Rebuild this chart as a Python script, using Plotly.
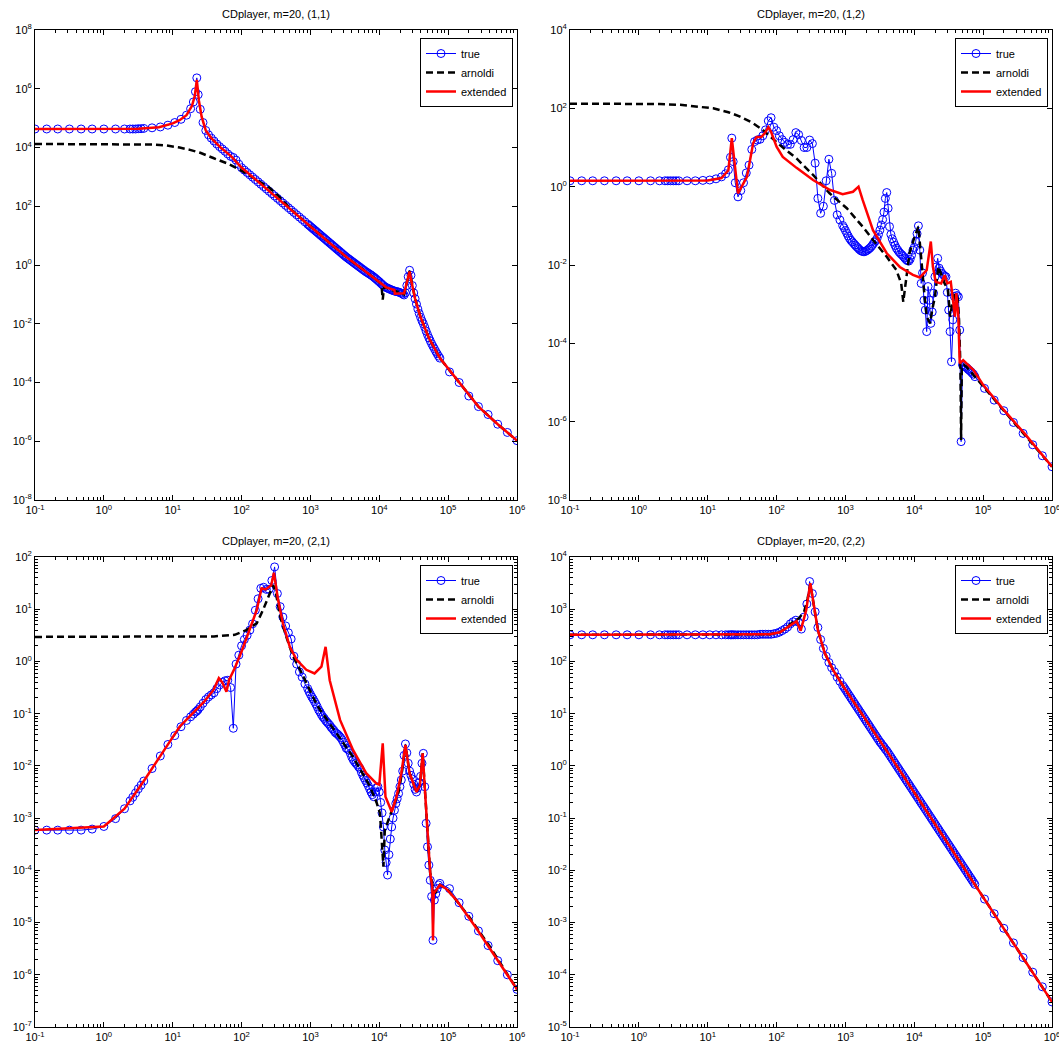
import plotly.graph_objects as go

# ---------------- data (log10 of frequency and of magnitude) -------------
freq_log10 = [
    -1.0, -0.83, -0.67, -0.5, -0.33, -0.17, 0.0, 0.17, 0.3,
    0.38, 0.42, 0.46, 0.5, 0.54, 0.58,
    0.7, 0.82, 0.93, 1.03, 1.12, 1.2, 1.26, 1.3, 1.33, 1.35, 1.37, 1.4, 1.44, 1.48,
    1.52, 1.56, 1.60, 1.64, 1.68, 1.72, 1.76, 1.80, 1.84, 1.88,
    1.92, 1.96, 2.00, 2.04, 2.08, 2.12, 2.16, 2.20, 2.24, 2.28,
    2.32, 2.36, 2.40, 2.44, 2.48, 2.52, 2.56, 2.60, 2.64, 2.68,
    2.72, 2.76, 2.80, 2.84, 2.88, 2.92, 2.96,
    2.98, 3.00, 3.02, 3.04, 3.06, 3.08, 3.10, 3.12, 3.14, 3.16,
    3.18, 3.20, 3.22, 3.24, 3.26, 3.28, 3.30, 3.32, 3.34, 3.36,
    3.38, 3.40, 3.42, 3.44, 3.46, 3.48, 3.50, 3.52, 3.54, 3.56,
    3.58, 3.60, 3.62, 3.64, 3.66, 3.68, 3.70, 3.72, 3.74, 3.76,
    3.78, 3.80, 3.82, 3.84, 3.86, 3.88, 3.90, 3.92, 3.94, 3.96,
    3.98, 4.00, 4.02, 4.04, 4.06, 4.08, 4.10, 4.12, 4.14, 4.16,
    4.18, 4.20, 4.22, 4.24, 4.26, 4.28, 4.30, 4.32, 4.34, 4.36,
    4.38, 4.40, 4.42, 4.44, 4.46, 4.48, 4.50, 4.52, 4.54, 4.56,
    4.58, 4.60, 4.62, 4.64, 4.66, 4.68, 4.70, 4.72, 4.74, 4.76,
    4.78, 4.80, 4.82, 4.84, 4.86, 4.88,
    5.02, 5.16, 5.30, 5.44, 5.58, 5.72, 5.86, 6.0,
]

true11_log10 = [
    4.63, 4.63, 4.63, 4.63, 4.63, 4.63, 4.63, 4.63, 4.63,
    4.63, 4.63, 4.63, 4.64, 4.64, 4.65,
    4.67, 4.70, 4.76, 4.85, 4.96, 5.10, 5.32, 5.55, 5.90, 6.37, 5.80, 5.30, 4.85, 4.58,
    4.43, 4.32, 4.22, 4.12, 4.03, 3.95, 3.87, 3.78, 3.70, 3.66,
    3.57, 3.43, 3.31, 3.23, 3.15, 3.07, 2.99, 2.91, 2.83, 2.75,
    2.67, 2.59, 2.51, 2.43, 2.35, 2.27, 2.19, 2.11, 2.03, 1.95,
    1.87, 1.79, 1.71, 1.63, 1.55, 1.47, 1.39,
    1.35, 1.31, 1.27, 1.23, 1.19, 1.15, 1.11, 1.07, 1.03, 0.99,
    0.95, 0.91, 0.87, 0.83, 0.79, 0.75, 0.71, 0.67, 0.63, 0.59,
    0.55, 0.51, 0.47, 0.43, 0.39, 0.35, 0.31, 0.27, 0.235, 0.20,
    0.165, 0.13, 0.095, 0.06, 0.025, -0.01, -0.045, -0.08, -0.115, -0.15,
    -0.185, -0.22, -0.25, -0.28, -0.31, -0.34, -0.375, -0.41, -0.45, -0.49,
    -0.53, -0.57, -0.615, -0.66, -0.70, -0.74, -0.765, -0.79, -0.81, -0.83,
    -0.85, -0.87, -0.885, -0.90, -0.91, -0.92, -0.94, -0.96, -0.99, -1.02,
    -0.95, -0.70, -0.40, -0.18, -0.35, -0.70, -0.95, -1.15, -1.33, -1.50,
    -1.65, -1.78, -1.90, -2.00, -2.12, -2.25, -2.37, -2.48, -2.58, -2.68,
    -2.77, -2.85, -2.94, -3.02, -3.10, -3.17,
    -3.64, -4.00, -4.46, -4.82, -5.09, -5.42, -5.70, -5.98,
]

true12_log10 = [
    0.15, 0.15, 0.15, 0.15, 0.15, 0.15, 0.15, 0.15, 0.15,
    0.15, 0.15, 0.15, 0.15, 0.15, 0.15,
    0.15, 0.15, 0.16, 0.17, 0.20, 0.25, 0.33, 0.43, 0.75, 1.24, 0.64, 0.10, -0.26, -0.10,
    0.10, 0.35, 0.55, 0.95, 1.15, 1.19, 1.21, 1.30, 1.45, 1.68,
    1.76, 1.52, 1.43, 1.30, 1.20, 1.13, 1.08, 1.08, 1.20, 1.38,
    1.33, 1.18, 1.00, 1.00, 1.19, 1.10, 0.60, -0.30, -0.68, -0.50,
    0.15, 0.70, 0.34, -0.35, -0.72, -0.85, -0.99,
    -1.05, -1.12, -1.19, -1.26, -1.32, -1.37, -1.41, -1.45, -1.49, -1.53,
    -1.56, -1.60, -1.63, -1.65, -1.66, -1.66, -1.64, -1.62, -1.59, -1.56,
    -1.52, -1.47, -1.42, -1.38, -1.32, -1.22, -1.11, -0.98, -0.84, -0.65,
    -0.30, -0.15, -0.55, -1.02, -1.22, -1.33, -1.42, -1.50, -1.57, -1.62,
    -1.67, -1.71, -1.74, -1.78, -1.82, -1.86, -1.89, -1.90, -1.85, -1.75,
    -1.62, -1.55, -1.40, -1.20, -1.00, -1.62, -2.47, -2.20, -2.90, -3.15,
    -3.70, -2.55, -2.90, -3.49, -3.20, -2.72, -2.30, -2.05, -1.83, -2.08,
    -2.15, -2.21, -2.25, -2.28, -2.30, -2.70, -3.15, -3.70, -4.47, -3.40,
    -2.80, -2.72, -2.78, -2.81, -3.66, -6.51, -4.55, -4.58, -4.60, -4.62,
    -4.66, -4.69, -4.72, -4.76, -4.79, -4.85,
    -5.15, -5.45, -5.72, -6.02, -6.30, -6.59, -6.87, -7.15,
]

true21_log10 = [
    -3.23, -3.23, -3.23, -3.23, -3.23, -3.21, -3.16, -3.01, -2.82,
    -2.67, -2.60, -2.52, -2.44, -2.37, -2.29,
    -2.05, -1.81, -1.59, -1.42, -1.25, -1.13, -1.06, -1.01, -0.97, -0.95, -0.92, -0.87, -0.80, -0.73,
    -0.68, -0.64, -0.60, -0.52, -0.45, -0.40, -0.37, -0.36, -0.50, -1.28,
    -0.05, 0.12, 0.30, 0.42, 0.50, 0.60, 0.72, 0.98, 1.20, 1.40,
    1.42, 1.38, 1.38, 1.55, 1.81, 1.30, 1.05, 0.85, 0.68, 0.55,
    0.43, 0.10, -0.05, -0.20, -0.30, -0.43, -0.52,
    -0.58, -0.63, -0.68, -0.72, -0.77, -0.82, -0.87, -0.93, -0.97, -1.02,
    -1.06, -1.09, -1.13, -1.16, -1.19, -1.22, -1.26, -1.29, -1.32, -1.36,
    -1.38, -1.40, -1.43, -1.46, -1.50, -1.55, -1.60, -1.66, -1.68, -1.70,
    -1.76, -1.83, -1.88, -1.92, -1.95, -1.98, -2.02, -2.05, -2.12, -2.18,
    -2.23, -2.28, -2.33, -2.38, -2.44, -2.50, -2.55, -2.59, -2.50, -2.42,
    -2.40, -2.50, -2.70, -2.90, -3.17, -3.61, -3.85, -4.09, -3.70, -3.40,
    -3.17, -3.00, -2.85, -2.72, -2.63, -2.53, -2.40, -2.27, -2.10, -1.80,
    -1.58, -1.75, -1.95, -2.10, -2.18, -2.25, -2.35, -2.45, -2.50, -2.42,
    -2.32, -2.20, -1.95, -1.76, -2.40, -3.10, -3.55, -3.90, -4.19, -4.50,
    -5.34, -4.57, -4.45, -4.35, -4.28, -4.25,
    -4.35, -4.62, -4.88, -5.16, -5.44, -5.73, -6.00, -6.28,
]

true22_log10 = [
    2.51, 2.51, 2.51, 2.51, 2.51, 2.51, 2.51, 2.51, 2.51,
    2.51, 2.51, 2.51, 2.51, 2.51, 2.51,
    2.51, 2.51, 2.51, 2.51, 2.51, 2.51, 2.51, 2.51, 2.51, 2.51, 2.51, 2.51, 2.51, 2.51,
    2.51, 2.51, 2.51, 2.51, 2.51, 2.51, 2.52, 2.52, 2.52, 2.52,
    2.52, 2.53, 2.54, 2.56, 2.59, 2.62, 2.66, 2.72, 2.76, 2.79,
    2.75, 2.62, 2.85, 3.10, 3.53, 3.30, 2.95, 2.65, 2.42, 2.25,
    2.10, 1.98, 1.88, 1.80, 1.70, 1.62, 1.54,
    1.50, 1.46, 1.42, 1.38, 1.34, 1.30, 1.26, 1.22, 1.18, 1.14,
    1.10, 1.06, 1.02, 0.98, 0.94, 0.90, 0.86, 0.82, 0.78, 0.74,
    0.70, 0.66, 0.62, 0.58, 0.54, 0.50, 0.46, 0.43, 0.39, 0.36,
    0.32, 0.29, 0.25, 0.21, 0.17, 0.13, 0.09, 0.05, 0.01, -0.03,
    -0.07, -0.11, -0.15, -0.19, -0.23, -0.27, -0.31, -0.35, -0.39, -0.43,
    -0.47, -0.51, -0.55, -0.59, -0.63, -0.67, -0.71, -0.75, -0.79, -0.83,
    -0.87, -0.91, -0.95, -0.99, -1.03, -1.07, -1.11, -1.15, -1.19, -1.23,
    -1.27, -1.31, -1.35, -1.39, -1.43, -1.47, -1.51, -1.55, -1.59, -1.63,
    -1.67, -1.71, -1.75, -1.79, -1.83, -1.87, -1.91, -1.95, -1.99, -2.03,
    -2.07, -2.11, -2.15, -2.19, -2.23, -2.27,
    -2.55, -2.83, -3.11, -3.39, -3.67, -3.95, -4.23, -4.52,
]

# arnoldi (black dashed) and extended (red) curves: (log10 f, log10 |H|)
arn11_f = [-1, 0, 0.4, 0.7, 0.9, 1.1, 1.25, 1.4, 1.58, 1.8, 1.98, 2.22, 2.41, 2.55, 2.7, 3.0, 3.5, 3.8,
           4.0, 4.03, 4.05, 4.07, 4.12, 4.2, 4.3, 4.36, 4.44, 4.48, 4.52, 4.6, 4.72, 4.88, 5.16, 5.44, 5.72, 6.0]
arn11_m = [4.12, 4.12, 4.11, 4.10, 4.07, 4.0, 3.92, 3.82, 3.65, 3.45, 3.24, 2.90, 2.62, 2.32, 1.93, 1.31, 0.31, -0.22,
           -0.57, -0.64, -1.18, -0.74, -0.79, -0.87, -0.93, -1.0, -0.2, -0.7, -1.15, -1.78, -2.48, -3.17, -4.0, -4.82, -5.42, -5.98]
ext11_f = [-1, 0.5, 0.8, 1.0, 1.1, 1.2, 1.28, 1.32, 1.35, 1.38, 1.42, 1.48, 1.56, 1.7, 1.85, 2.0, 3.28, 3.56,
           3.8, 4.0, 4.1, 4.22, 4.225, 4.36, 4.41, 4.44, 4.47, 4.52, 4.6, 4.72, 4.88, 5.16, 5.44, 5.72, 6.0]
ext11_m = [4.63, 4.64, 4.69, 4.82, 4.93, 5.10, 5.42, 5.75, 6.30, 5.60, 5.05, 4.58, 4.32, 3.99, 3.70, 3.32, 0.75, 0.20,
           -0.22, -0.57, -0.76, -0.85, -0.98, -0.96, -0.55, -0.22, -0.60, -1.15, -1.78, -2.48, -3.17, -4.0, -4.82, -5.42, -5.98]

arn12_f = [-1, 0, 0.3, 0.6, 0.85, 1.08, 1.3, 1.47, 1.65, 1.8, 2.05, 2.29, 2.53, 2.77, 3.02, 3.25, 3.40, 3.60,
           3.74, 3.81, 3.84, 3.87, 3.93, 4.0, 4.06, 4.09, 4.12, 4.15, 4.18, 4.23, 4.26, 4.30, 4.35, 4.40,
           4.44, 4.49, 4.52, 4.55, 4.59, 4.63, 4.65, 4.67, 4.68, 4.69, 4.72, 4.76, 4.88, 5.0, 5.3, 5.6, 6.0]
arn12_m = [2.12, 2.12, 2.11, 2.09, 2.05, 2.0, 1.9, 1.79, 1.63, 1.45, 1.06, 0.72, 0.30, -0.17, -0.55, -1.02, -1.36, -1.79,
           -2.13, -2.47, -2.94, -2.55, -1.70, -1.30, -1.02, -1.62, -2.30, -2.81, -3.32, -3.49, -3.15, -2.81, -2.04, -2.30,
           -2.47, -2.64, -3.32, -3.0, -2.72, -2.85, -3.40, -4.60, -6.47, -4.60, -4.55, -4.60, -4.85, -5.11, -5.72, -6.33, -7.15]
ext12_f = [-1, 1.0, 1.2, 1.3, 1.35, 1.44, 1.57, 1.66, 1.71, 1.78, 1.83, 1.88, 1.92, 2.0, 2.09, 2.29, 2.53, 2.77,
           2.96, 3.11, 3.19, 3.25, 3.40, 3.60, 3.79, 3.98, 4.08, 4.18, 4.24, 4.27, 4.31, 4.39, 4.44, 4.48,
           4.53, 4.56, 4.59, 4.61, 4.64, 4.66, 4.71, 4.86, 5.0, 5.3, 5.6, 6.0]
ext12_m = [0.15, 0.16, 0.22, 0.42, 1.24, -0.17, 0.25, 1.11, 1.27, 1.27, 1.37, 1.52, 1.40, 1.02, 0.76, 0.48, 0.17, -0.08,
           -0.19, -0.13, 0.0, -0.34, -1.11, -1.70, -2.05, -2.25, -2.32, -2.13, -1.40, -2.04, -2.43, -2.47, -2.26, -2.47,
           -2.43, -2.89, -3.32, -2.72, -3.32, -4.51, -4.43, -4.68, -5.06, -5.70, -6.30, -7.15]

arn21_f = [-1, 1.0, 1.6, 1.9, 2.07, 2.22, 2.31, 2.39, 2.46, 2.50, 2.56, 2.65, 2.75, 2.85, 2.94, 3.10, 3.28, 3.43,
           3.62, 3.86, 3.96, 4.01, 4.04, 4.06, 4.08, 4.15, 4.20, 4.28, 4.32, 4.38, 4.44, 4.54, 4.59, 4.63,
           4.66, 4.71, 4.74, 4.78, 4.81, 4.88, 5.0, 5.3, 5.6, 6.0]
arn21_m = [0.47, 0.47, 0.48, 0.51, 0.60, 0.73, 0.98, 1.24, 1.46, 1.30, 0.86, 0.47, 0.09, -0.16, -0.42, -0.85, -1.19, -1.47,
           -1.83, -2.38, -2.70, -2.91, -3.42, -3.93, -3.23, -2.97, -2.78, -2.50, -2.20, -1.60, -2.14, -2.50, -2.37, -1.76,
           -2.40, -3.36, -4.06, -4.32, -4.44, -4.28, -4.38, -4.88, -5.45, -6.28]
ext21_f = [-1, 0.0, 0.3, 0.6, 0.9, 1.1, 1.3, 1.45, 1.59, 1.67, 1.72, 1.78, 1.82, 1.90, 2.0, 2.12, 2.22, 2.29,
           2.35, 2.43, 2.47, 2.53, 2.60, 2.70, 2.80, 2.94, 3.06, 3.16, 3.22, 3.28, 3.43, 3.62, 3.81, 3.96,
           4.0, 4.05, 4.09, 4.18, 4.25, 4.32, 4.38, 4.44, 4.54, 4.59, 4.63, 4.66, 4.71, 4.74, 4.77, 4.78,
           4.79, 4.81, 4.88, 4.97, 5.12, 5.41, 5.70, 6.0]
ext21_m = [-3.23, -3.16, -2.82, -2.25, -1.65, -1.25, -0.98, -0.78, -0.55, -0.32, -0.40, -0.58, -0.35, -0.13, 0.19, 0.60, 0.98, 1.40,
           1.38, 1.46, 1.70, 1.18, 0.73, 0.28, 0.03, -0.16, -0.23, -0.10, 0.28, -0.36, -1.12, -1.70, -2.14, -2.34,
           -2.36, -1.57, -2.59, -2.88, -2.59, -2.14, -1.60, -2.14, -2.50, -2.37, -1.76, -2.40, -3.36, -4.06, -4.32, -5.34,
           -4.44, -4.40, -4.28, -4.35, -4.57, -5.11, -5.69, -6.28]

arn22_f = [-1, 1.5, 1.9, 2.05, 2.15, 2.24, 2.32, 2.40, 2.45, 2.49, 2.53, 2.60, 2.70, 2.82, 2.97, 3.69, 4.5, 5.3, 6.0]
arn22_m = [2.51, 2.51, 2.52, 2.56, 2.65, 2.76, 2.82, 2.95, 3.20, 3.48, 3.18, 2.60, 2.16, 1.84, 1.52, 0.11, -1.51, -3.11, -4.52]
ext22_f = [-1, 1.5, 1.9, 2.05, 2.15, 2.24, 2.29, 2.35, 2.43, 2.49, 2.53, 2.60, 2.70, 2.82, 2.97, 3.69, 4.5, 5.3, 6.0]
ext22_m = [2.51, 2.51, 2.52, 2.56, 2.65, 2.74, 2.77, 2.59, 2.98, 3.50, 3.18, 2.60, 2.16, 1.84, 1.52, 0.11, -1.51, -3.11, -4.52]

titles = ["CDplayer, m=20, (1,1)", "CDplayer, m=20, (1,2)",
          "CDplayer, m=20, (2,1)", "CDplayer, m=20, (2,2)"]
series_names = ["true", "arnoldi", "extended"]
x_decades = [-1, 0, 1, 2, 3, 4, 5, 6]
y_ranges = [(-8, 8), (-8, 4), (-7, 2), (-5, 4)]
y_label_step = [2, 2, 1, 1]

# ---------------- figure ----------------
W, H = 1059, 1050
px_x = [(35, 517), (570, 1052), (35, 517), (570, 1052)]
px_y = [(30, 500), (30, 500), (557, 1027), (557, 1027)]

true_sets = [true11_log10, true12_log10, true21_log10, true22_log10]
arn_sets = [(arn11_f, arn11_m), (arn12_f, arn12_m), (arn21_f, arn21_m), (arn22_f, arn22_m)]
ext_sets = [(ext11_f, ext11_m), (ext12_f, ext12_m), (ext21_f, ext21_m), (ext22_f, ext22_m)]

for s in true_sets:
    assert len(s) == len(freq_log10), len(s)
for a, b in arn_sets + ext_sets:
    assert len(a) == len(b), (len(a), len(b))


def pw(vals):
    return [10 ** v for v in vals]


font_family = "Liberation Sans, Arial, Helvetica, sans-serif"
fig = go.Figure()
layout = dict(width=W, height=H, margin=dict(l=0, r=0, t=0, b=0, autoexpand=False),
              paper_bgcolor="white", plot_bgcolor="white", showlegend=True,
              font=dict(family=font_family, size=11, color="black"))
annotations = []

for i in range(4):
    k = "" if i == 0 else str(i + 1)
    xa, ya = "x" + k, "y" + k
    leg = "legend" + k
    fig.add_trace(go.Scatter(
        x=pw(freq_log10), y=pw(true_sets[i]), mode="lines+markers", name=series_names[0],
        line=dict(color="#0000ff", width=1),
        marker=dict(symbol="circle-open", size=8, color="#0000ff", line=dict(width=1, color="#0000ff")),
        xaxis=xa, yaxis=ya, legend=leg))
    af, am = arn_sets[i]
    fig.add_trace(go.Scatter(
        x=pw(af), y=pw(am), mode="lines", name=series_names[1],
        line=dict(color="black", width=2.5, dash="7px,4px"),
        xaxis=xa, yaxis=ya, legend=leg))
    ef, em = ext_sets[i]
    fig.add_trace(go.Scatter(
        x=pw(ef), y=pw(em), mode="lines", name=series_names[2],
        line=dict(color="#ff0000", width=2.5),
        xaxis=xa, yaxis=ya, legend=leg))

    x0, x1 = px_x[i]
    y0, y1 = px_y[i]
    xd = [x0 / W, min(1.0, x1 / W)]
    yd = [1 - y1 / H, 1 - y0 / H]
    minor_x = [m * 10 ** d for d in x_decades[:-1] for m in range(2, 10)]
    layout["xaxis" + k] = dict(
        type="log", domain=xd, range=[-1, 6], anchor=ya,
        showline=True, linecolor="black", linewidth=1, mirror="ticks",
        ticks="inside", ticklen=5, tickwidth=1, tickcolor="black",
        tickmode="array", tickvals=[10 ** d for d in x_decades],
        ticktext=["10<sup>%d</sup>" % d for d in x_decades],
        ticklabeloverflow="allow",
        minor=dict(ticks="inside", ticklen=3, tickwidth=1, tickcolor="black",
                   tickmode="array", tickvals=minor_x, showgrid=False),
        showgrid=False, zeroline=False, tickfont=dict(size=11, family=font_family))
    lo, hi = y_ranges[i]
    ydec = list(range(lo, hi + 1, y_label_step[i]))
    yax = dict(
        type="log", domain=yd, range=[lo, hi], anchor=xa,
        showline=True, linecolor="black", linewidth=1, mirror="ticks",
        ticks="inside", ticklen=5, tickwidth=1, tickcolor="black",
        tickmode="array", tickvals=[10 ** d for d in ydec],
        ticktext=["10<sup>%d</sup>" % d for d in ydec],
        ticklabeloverflow="allow",
        showgrid=False, zeroline=False, tickfont=dict(size=11, family=font_family))
    if y_label_step[i] == 1:
        minor_y = [m * 10 ** d for d in range(lo, hi) for m in range(2, 10)]
        yax["minor"] = dict(ticks="inside", ticklen=3, tickwidth=1, tickcolor="black",
                            tickmode="array", tickvals=minor_y, showgrid=False)
    layout["yaxis" + k] = yax
    layout[leg] = dict(
        x=(min(x1, W) - 4) / W, y=1 - (y0 + 8) / H, xanchor="right", yanchor="top",
        bgcolor="white", bordercolor="black", borderwidth=1,
        font=dict(size=11, family=font_family, color="black"),
        itemwidth=30, tracegroupgap=0)
    annotations.append(dict(
        x=(x0 + x1) / 2 / W, y=1 - y0 / H, xref="paper", yref="paper",
        text=titles[i], showarrow=False, xanchor="center", yanchor="bottom",
        yshift=8, font=dict(size=11, family=font_family, color="black")))

layout["annotations"] = annotations
fig.update_layout(**layout)
# remove the browser's default 8px body margin so the figure fills the window exactly
fig.write_html("out.html",
               config={"displayModeBar": False, "staticPlot": True},
               post_script="document.body.style.margin='0px';"
                           "document.documentElement.style.overflow='hidden';")
